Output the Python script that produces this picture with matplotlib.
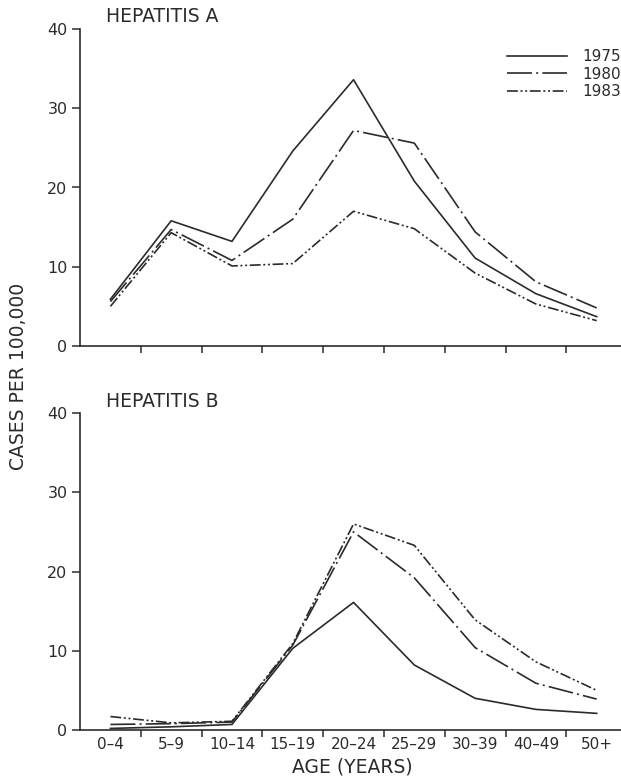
import matplotlib
matplotlib.use("Agg")
import matplotlib.pyplot as plt
import numpy as np

plt.rcParams['font.family'] = ['DejaVu Sans']

age_groups = ["0–4", "5–9", "10–14", "15–19", "20–24", "25–29", "30–39", "40–49", "50+"]
years = ["1975", "1980", "1983"]

hep_a_1975 = [5.9, 15.8, 13.2, 24.6, 33.6, 20.8, 11.1, 6.6, 3.7]
hep_a_1980 = [5.6, 14.7, 10.8, 16.0, 27.2, 25.6, 14.4, 8.1, 4.8]
hep_a_1983 = [5.0, 14.3, 10.1, 10.4, 17.0, 14.8, 9.2, 5.3, 3.2]

hep_b_1975 = [0.2, 0.4, 0.7, 10.3, 16.1, 8.2, 4.0, 2.6, 2.1]
hep_b_1980 = [0.7, 0.8, 1.0, 10.7, 25.0, 19.2, 10.4, 5.9, 3.9]
hep_b_1983 = [1.7, 0.9, 1.1, 10.9, 26.0, 23.3, 13.9, 8.6, 5.0]

yticks = [0, 10, 20, 30, 40]

ink = "#2b2b2b"
styles = ['-', (0, (15, 2.5, 1.2, 2.5)), (0, (6.5, 1.6, 1.2, 1.6, 1.2, 1.6))]

fig = plt.figure(figsize=(6.21, 7.77), dpi=100)
fig.patch.set_facecolor("white")

W = 621.0
H = 777.0
left = 80 / W
width = 1 - left
ax_top = fig.add_axes([left, 1 - 346 / H, width, 317 / H])
ax_bot = fig.add_axes([left, 1 - 730 / H, width, 317 / H])

x = np.arange(len(age_groups))

def style_axis(ax, show_labels):
    ax.set_xlim(-0.5, 8.4)
    ax.set_ylim(0, 40)
    for s in ['top', 'right']:
        ax.spines[s].set_visible(False)
    for s in ['left', 'bottom']:
        ax.spines[s].set_color(ink)
        ax.spines[s].set_linewidth(1.2)
    ax.set_yticks(yticks)
    ax.set_yticklabels([str(v) for v in yticks])
    ax.tick_params(axis='y', direction='out', length=6, width=1.1, color=ink,
                   labelsize=11.5, labelcolor=ink, pad=3)
    ax.set_xticks(x)
    if show_labels:
        ax.set_xticklabels(age_groups)
    else:
        ax.set_xticklabels([])
    ax.set_xticks(np.arange(0.5, 8.5, 1.0), minor=True)
    ax.tick_params(axis='x', which='major', length=0, labelsize=11, labelcolor=ink, pad=5)
    ax.tick_params(axis='x', which='minor', direction='out', length=5, width=1.1, color=ink)

for ax, series in [(ax_top, [hep_a_1975, hep_a_1980, hep_a_1983]),
                   (ax_bot, [hep_b_1975, hep_b_1980, hep_b_1983])]:
    for vals, ls, lab in zip(series, styles, years):
        ax.plot(x, vals, color=ink, linestyle=ls, linewidth=1.2, label=lab, clip_on=False)

style_axis(ax_top, False)
style_axis(ax_bot, True)

leg = ax_top.legend(loc='upper right', bbox_to_anchor=(1.0, 1 - 49 / H),
                    bbox_transform=fig.transFigure, frameon=False, fontsize=11,
                    handlelength=3.9, handletextpad=1.0, labelspacing=0.18,
                    borderpad=0, borderaxespad=0)
for t in leg.get_texts():
    t.set_color(ink)

fig.text(106 / W, 1 - 17 / H, "HEPATITIS A", fontsize=13.5, color=ink, ha='left', va='center')
fig.text(106 / W, 1 - 401 / H, "HEPATITIS B", fontsize=13.5, color=ink, ha='left', va='center')
fig.text(352 / W, 1 - 767 / H, "AGE (YEARS)", fontsize=13.5, color=ink, ha='center', va='center')
fig.text(18.5 / W, 1 - 376 / H, "CASES PER 100,000", fontsize=13.5, color=ink,
         ha='center', va='center', rotation=90)

fig.savefig("out.png", dpi=100, facecolor="white")
